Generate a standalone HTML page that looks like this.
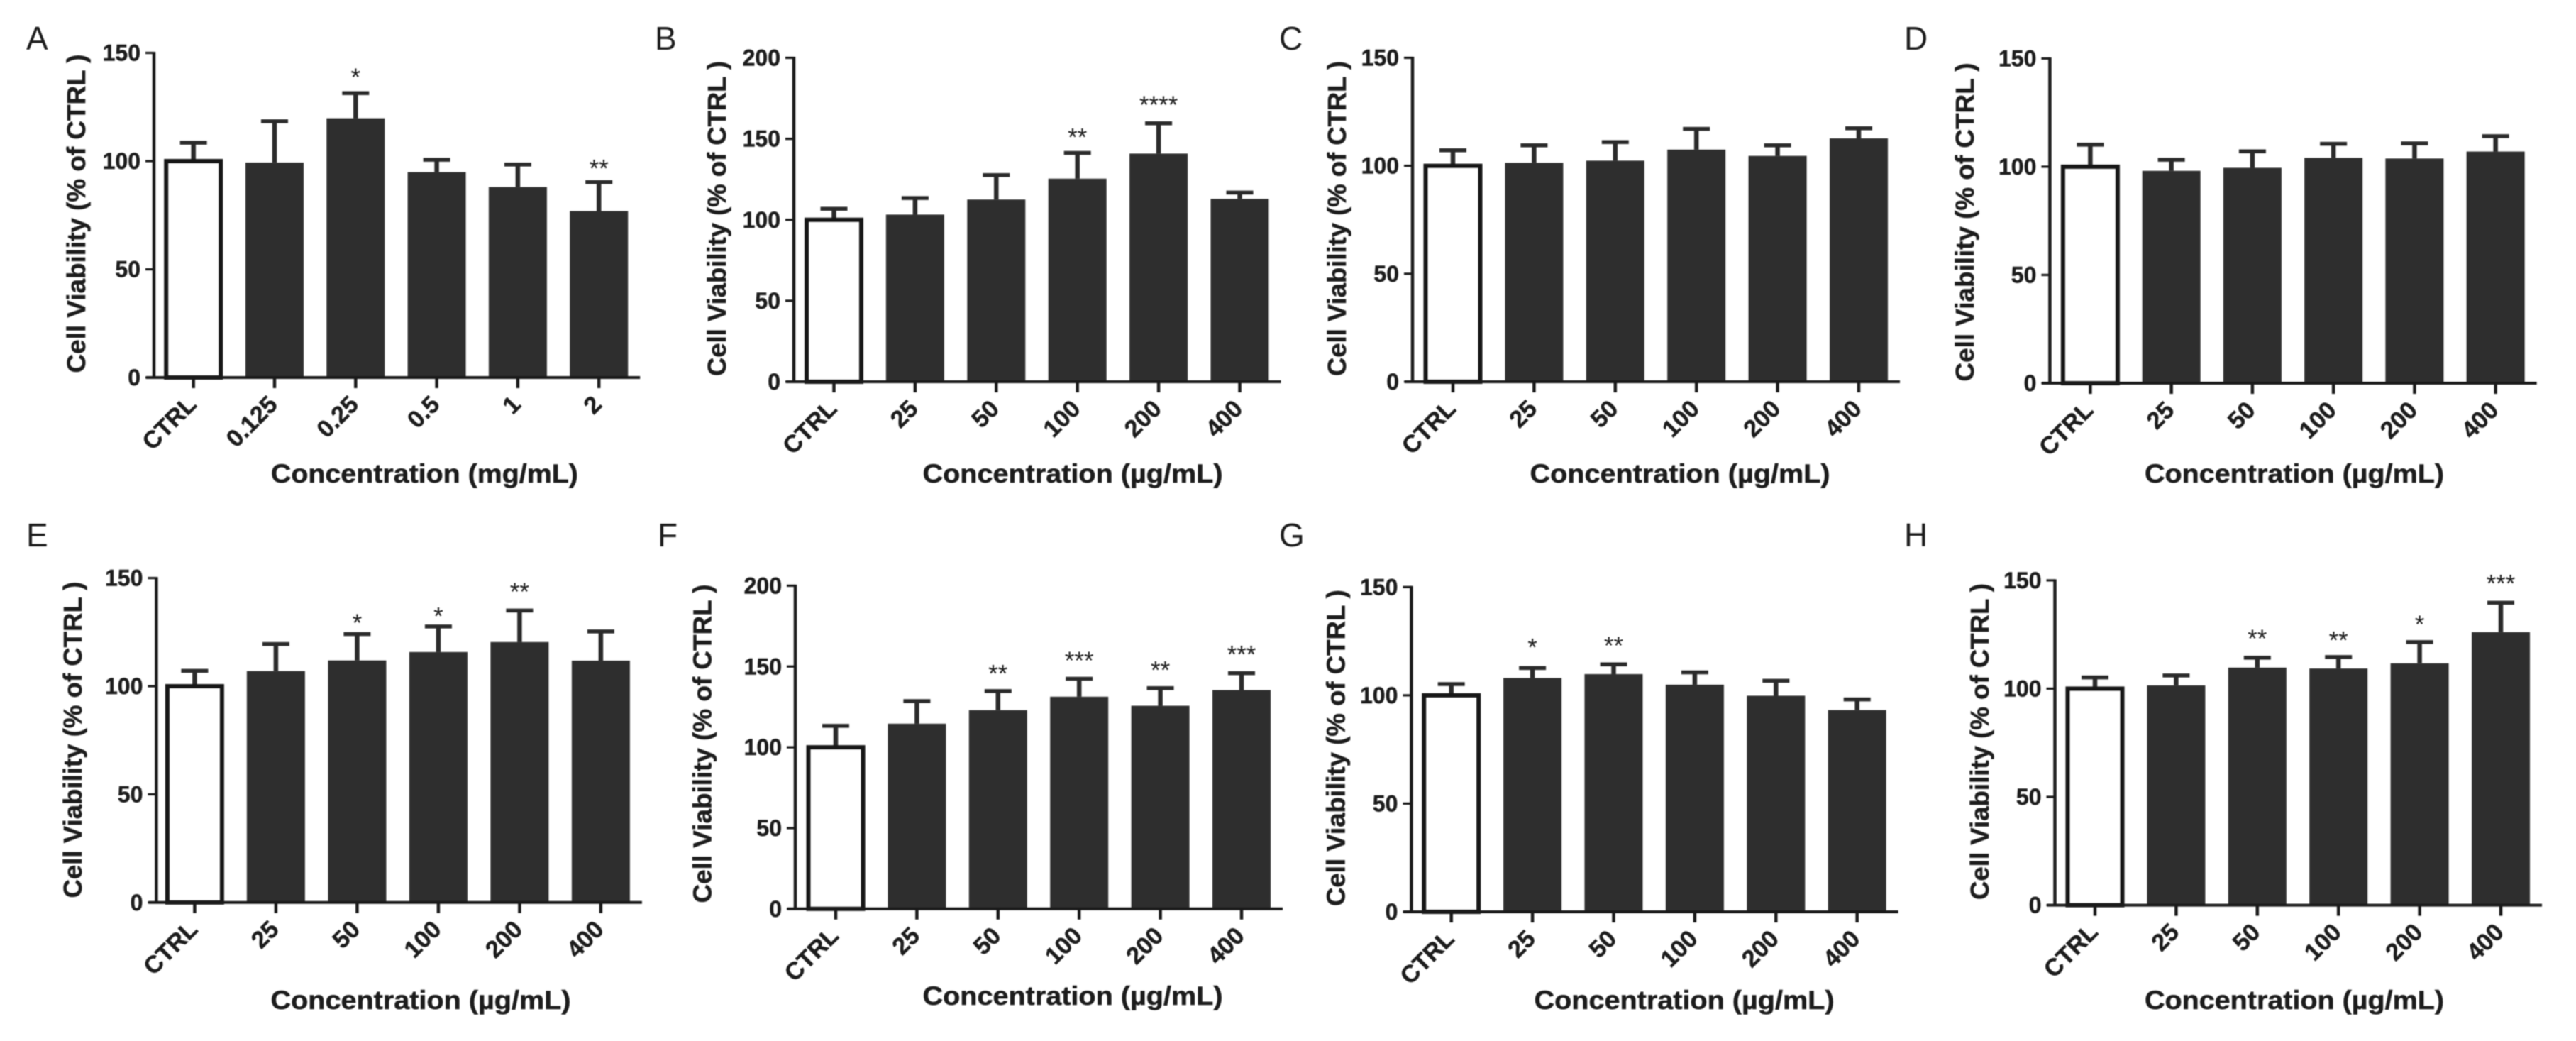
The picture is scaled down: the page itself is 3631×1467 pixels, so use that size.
<!DOCTYPE html>
<html lang="en">
<head>
<meta charset="utf-8">
<title>Cell Viability Bar Charts</title>
<style>
html,body{margin:0;padding:0;background:#fff;width:3631px;height:1467px;overflow:hidden}
svg{display:block;filter:blur(0.9px)}
text{font-family:"Liberation Sans",sans-serif;fill:#1c1c1c}
text[font-weight="700"]{stroke:#1c1c1c;stroke-width:0.5px}
</style>
</head>
<body>
<svg id="figure" xmlns="http://www.w3.org/2000/svg" width="3631" height="1467" viewBox="0 0 3631 1467"></svg>
<script>
const categoriesMg = ['CTRL', '0.125', '0.25', '0.5', '1', '2'];
const categoriesUg = ['CTRL', '25', '50', '100', '200', '400'];
const ticks150 = [0, 50, 100, 150];
const ticks200 = [0, 50, 100, 150, 200];

const meansA = [100, 99.3, 119.8, 94.9, 88, 76.9];
const errorTopsA = [108.5, 118.4, 131.4, 100.6, 98.4, 90.3];
const starsA = ['', '', '*', '', '', '**'];
const starLiftsA = [0, 0, 9.6, 0, 0, 8.6];

const meansB = [100, 103.2, 112.5, 125.4, 140.9, 112.9];
const errorTopsB = [106.8, 113.4, 127.6, 141.3, 159.6, 116.8];
const starsB = ['', '', '', '**', '****', ''];
const starLiftsB = [0, 0, 0, 12.7, 14.4, 0];

const meansC = [100, 101.4, 102.4, 107.5, 104.6, 112.7];
const errorTopsC = [107.2, 109.5, 111, 117.1, 109.5, 117.4];
const starsC = ['', '', '', '', '', ''];
const starLiftsC = [0, 0, 0, 0, 0, 0];

const meansD = [100, 98.1, 99.5, 104.1, 103.8, 107];
const errorTopsD = [110.2, 103.2, 107.1, 110.6, 110.8, 114.1];
const starsD = ['', '', '', '', '', ''];
const starLiftsD = [0, 0, 0, 0, 0, 0];

const meansE = [100, 107, 111.9, 115.8, 120.4, 111.8];
const errorTopsE = [107.1, 119.5, 124.1, 127.6, 135, 125.3];
const starsE = ['', '', '*', '*', '**', ''];
const starLiftsE = [0, 0, 7.4, 7, 11, 0];

const meansF = [100, 114.6, 123, 131.3, 125.7, 135.4];
const errorTopsF = [113.3, 128.6, 134.8, 142.4, 136.6, 145.9];
const starsF = ['', '', '**', '***', '**', '***'];
const starLiftsF = [0, 0, 13.8, 14.3, 14.1, 14.5];

const meansG = [100, 108, 109.8, 104.9, 99.8, 93.2];
const errorTopsG = [105.2, 112.6, 114.3, 110.6, 106.7, 98.1];
const starsG = ['', '*', '**', '', '', ''];
const starLiftsG = [0, 11.8, 10.9, 0, 0, 0];

const meansH = [100, 101.5, 109.7, 109.3, 111.7, 126.1];
const errorTopsH = [105.2, 106.1, 114.3, 114.6, 121.5, 139.7];
const starsH = ['', '', '**', '**', '*', '***'];
const starLiftsH = [0, 0, 11.1, 10, 10.5, 11.1];

const yAxisTitle = 'Cell Viability (% of CTRL )';
const xTitleMg = 'Concentration (mg/mL)';
const xTitleUg = 'Concentration (µg/mL)';

const panels = [
  {id:'A', cats:categoriesMg, ticks:ticks150, means:meansA, tops:errorTopsA, stars:starsA, lifts:starLiftsA, xTitle:xTitleMg, axisX:217, tick0:272.7, step:114.3, yTop:74.5, y0:532, letterX:37, letterY:70, yTitleX:120, yTitleY:301, yTitleLen:449, xTitleX:598.4, xTitleY:680, xTitleLen:433},
  {id:'B', cats:categoriesUg, ticks:ticks200, means:meansB, tops:errorTopsB, stars:starsB, lifts:starLiftsB, xTitle:xTitleUg, axisX:1119, tick0:1175.5, step:114.4, yTop:81.5, y0:538, letterX:923, letterY:70, yTitleX:1023, yTitleY:308, yTitleLen:444, xTitleX:1512, xTitleY:680, xTitleLen:423},
  {id:'C', cats:categoriesUg, ticks:ticks150, means:meansC, tops:errorTopsC, stars:starsC, lifts:starLiftsC, xTitle:xTitleUg, axisX:1991, tick0:2048, step:114.4, yTop:81.5, y0:538, letterX:1803, letterY:70, yTitleX:1897, yTitleY:308, yTitleLen:444, xTitleX:2368, xTitleY:680, xTitleLen:423},
  {id:'D', cats:categoriesUg, ticks:ticks150, means:meansD, tops:errorTopsD, stars:starsD, lifts:starLiftsD, xTitle:xTitleUg, axisX:2889.4, tick0:2946.4, step:114.25, yTop:82.4, y0:540, letterX:2684, letterY:70, yTitleX:2782, yTitleY:313, yTitleLen:449, xTitleX:3234, xTitleY:680, xTitleLen:422},
  {id:'E', cats:categoriesUg, ticks:ticks150, means:meansE, tops:errorTopsE, stars:starsE, lifts:starLiftsE, xTitle:xTitleUg, axisX:220.4, tick0:274.4, step:114.5, yTop:814.6, y0:1271.8, letterX:37, letterY:770, yTitleX:115, yTitleY:1042.5, yTitleLen:446, xTitleX:593, xTitleY:1422, xTitleLen:423},
  {id:'F', cats:categoriesUg, ticks:ticks200, means:meansF, tops:errorTopsF, stars:starsF, lifts:starLiftsF, xTitle:xTitleUg, axisX:1121, tick0:1178, step:114.4, yTop:825.4, y0:1280.8, letterX:927, letterY:770, yTitleX:1002.5, yTitleY:1048, yTitleLen:449, xTitleX:1512, xTitleY:1416, xTitleLen:423},
  {id:'G', cats:categoriesUg, ticks:ticks150, means:meansG, tops:errorTopsG, stars:starsG, lifts:starLiftsG, xTitle:xTitleUg, axisX:1989.4, tick0:2045.7, step:114.4, yTop:827.3, y0:1285, letterX:1803, letterY:770, yTitleX:1895.6, yTitleY:1054, yTitleLen:446, xTitleX:2374, xTitleY:1422, xTitleLen:423},
  {id:'H', cats:categoriesUg, ticks:ticks150, means:meansH, tops:errorTopsH, stars:starsH, lifts:starLiftsH, xTitle:xTitleUg, axisX:2896.5, tick0:2953, step:114.4, yTop:817.9, y0:1275.6, letterX:2684, letterY:770, yTitleX:2803, yTitleY:1045, yTitleLen:446, xTitleX:3234, xTitleY:1422, xTitleLen:422}
];

const NS = 'http://www.w3.org/2000/svg';
const figure = document.getElementById('figure');

function make(tag, attrs, parent, content) {
  const node = document.createElementNS(NS, tag);
  for (const key in attrs) node.setAttribute(key, attrs[key]);
  if (content !== undefined) node.textContent = content;
  parent.appendChild(node);
  return node;
}
function yAxisScale(p, value) {
  const maxValue = p.ticks[p.ticks.length - 1];
  return p.y0 - value * (p.y0 - p.yTop) / maxValue;
}
function xAxisScale(p, index) {
  return p.tick0 + index * p.step;
}

panels.forEach(function (p) {
  const group = make('g', {}, figure);
  
  

  const letter = make('text', {x: p.letterX, y: p.letterY, 'font-size': 46}, group, p.id);
  
  

  p.means.forEach(function (value, i) {
    const cx = xAxisScale(p, i);
    const topY = yAxisScale(p, value);
    const errY = yAxisScale(p, p.tops[i]);
    const isControl = i === 0;

    const stem = make('line', {x1: cx, x2: cx, y1: topY, y2: errY, stroke: '#2a2a2a', 'stroke-width': 6.5}, group);
    
    

    const cap = make('line', {x1: cx - 19, x2: cx + 19, y1: errY, y2: errY, stroke: '#2a2a2a', 'stroke-width': 5.5}, group);
    
    

    const bar = make('rect', isControl
      ? {x: cx - 38.5, y: topY, width: 77, height: p.y0 - topY, fill: '#fff', stroke: '#161616', 'stroke-width': 6}
      : {x: cx - 41, y: topY, width: 82, height: p.y0 - topY, fill: '#2e2e2e'}, group);
    
    

    if (p.stars[i]) {
      const starY = yAxisScale(p, p.tops[i] + p.lifts[i]);
      const star = make('text', {x: cx, y: starY + 19, 'font-size': 35, 'text-anchor': 'middle'}, group, p.stars[i]);
      
      
    }

    const tick = make('line', {x1: cx, x2: cx, y1: p.y0, y2: p.y0 + 15, stroke: '#1a1a1a', 'stroke-width': 4.5}, group);
    
    

    const lx = cx + 6;
    const ly = p.y0 + 40;
    const label = make('text', {x: lx, y: ly, 'font-size': 34, 'font-weight': 700, 'text-anchor': 'end', transform: 'rotate(-45 ' + lx + ' ' + ly + ')'}, group, p.cats[i]);
    
    
  });

  const xEnd = xAxisScale(p, p.means.length - 1) + 58;
  const xAxis = make('line', {x1: p.axisX - 11, x2: xEnd, y1: p.y0, y2: p.y0, stroke: '#1a1a1a', 'stroke-width': 4}, group);
  
  

  const yAxis = make('line', {x1: p.axisX, x2: p.axisX, y1: p.yTop - 1.5, y2: p.y0, stroke: '#1a1a1a', 'stroke-width': 4.5}, group);
  
  

  p.ticks.forEach(function (value) {
    const ty = yAxisScale(p, value);
    const yTick = make('line', {x1: p.axisX - 12, x2: p.axisX, y1: ty, y2: ty, stroke: '#1a1a1a', 'stroke-width': 3.2}, group);
    
    

    const yLabel = make('text', {x: p.axisX - 19, y: ty + 11, 'font-size': 32, 'font-weight': 700, 'text-anchor': 'end'}, group, String(value));
    
    
  });

  const yTitle = make('text', {x: p.yTitleX, y: p.yTitleY, 'font-size': 36, 'font-weight': 700, 'text-anchor': 'middle', textLength: p.yTitleLen, lengthAdjust: 'spacingAndGlyphs', transform: 'rotate(-90 ' + p.yTitleX + ' ' + p.yTitleY + ')'}, group, yAxisTitle);
  
  

  const xTitle = make('text', {x: p.xTitleX, y: p.xTitleY, 'font-size': 37, 'font-weight': 700, 'text-anchor': 'middle', textLength: p.xTitleLen, lengthAdjust: 'spacingAndGlyphs'}, group, p.xTitle);
  
  
});
</script>
</body>
</html>
